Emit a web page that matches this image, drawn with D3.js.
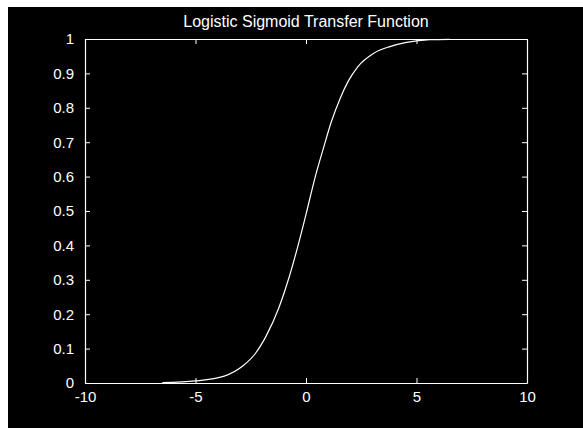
<!DOCTYPE html>
<html><head><meta charset="utf-8">
<script src="https://cdn.jsdelivr.net/npm/d3@7"></script>
<style>html,body{margin:0;padding:0;background:#fff;overflow:hidden}</style>
</head><body>
<svg id="c" width="583" height="428"></svg>
<script>
const titleText = "Logistic Sigmoid Transfer Function";
const xTicks = [-10, -5, 0, 5, 10];
const yTicks = [0, 0.1, 0.2, 0.3, 0.4, 0.5, 0.6, 0.7, 0.8, 0.9, 1];
const curveX = [-6.5, -5.0, -3.7, -2.85, -2.3, -1.8, -1.25, -0.8, -0.4, 0.0, 0.4, 0.8, 1.15, 1.55, 1.9, 2.35, 3.05, 3.8, 4.55, 5.6, 6.5];
const curveY = [0.001, 0.006, 0.02, 0.05, 0.085, 0.137, 0.215, 0.30, 0.39, 0.49, 0.595, 0.685, 0.76, 0.828, 0.876, 0.92, 0.958, 0.978, 0.99, 0.998, 0.999];

const svg = d3.select("#c");
svg.append("rect").attr("x", 8).attr("y", 7).attr("width", 575).attr("height", 421).attr("fill", "#000");

const L = 85, R = 527, T = 39, B = 383;
const x = d3.scaleLinear().domain([-10, 10]).range([L, R]);
const y = d3.scaleLinear().domain([0, 1]).range([B, T]);
const font = "'Liberation Sans', Arial, sans-serif";

// curve
const pts = curveX.map((v, i) => [v, curveY[i]]);
svg.append("path").datum(pts)
  .attr("d", d3.line().x(d => x(d[0])).y(d => y(d[1])).curve(d3.curveMonotoneX))
  .attr("fill", "none").attr("stroke", "#fff").attr("stroke-width", 1.2);

// axes with inward ticks
function styleAxis(g) {
  g.selectAll("path").attr("stroke", "#fff").attr("stroke-width", 1.2);
  g.selectAll("line").attr("stroke", "#fff");
  g.selectAll("text").attr("fill", "#fff").attr("font-family", font).attr("font-size", 15);
}
const fmt = d => String(d);
svg.append("g").attr("transform", `translate(0,${B})`)
  .call(d3.axisBottom(x).tickValues(xTicks).tickSizeInner(-5).tickSizeOuter(0).tickPadding(8).tickFormat(fmt))
  .call(styleAxis);
svg.append("g").attr("transform", `translate(0,${T})`)
  .call(d3.axisTop(x).tickValues(xTicks).tickSizeInner(-5).tickSizeOuter(0).tickFormat(""))
  .call(styleAxis);
svg.append("g").attr("transform", `translate(${L},0)`)
  .call(d3.axisLeft(y).tickValues(yTicks).tickSizeInner(-5).tickSizeOuter(0).tickPadding(11).tickFormat(fmt))
  .call(styleAxis);
svg.append("g").attr("transform", `translate(${R},0)`)
  .call(d3.axisRight(y).tickValues(yTicks).tickSizeInner(-5).tickSizeOuter(0).tickFormat(""))
  .call(styleAxis);

// title
svg.append("text").attr("x", (L + R) / 2).attr("y", 27)
  .attr("text-anchor", "middle").attr("fill", "#fff")
  .attr("font-family", font).attr("font-size", 16)
  .text(titleText);
</script>
</body></html>
